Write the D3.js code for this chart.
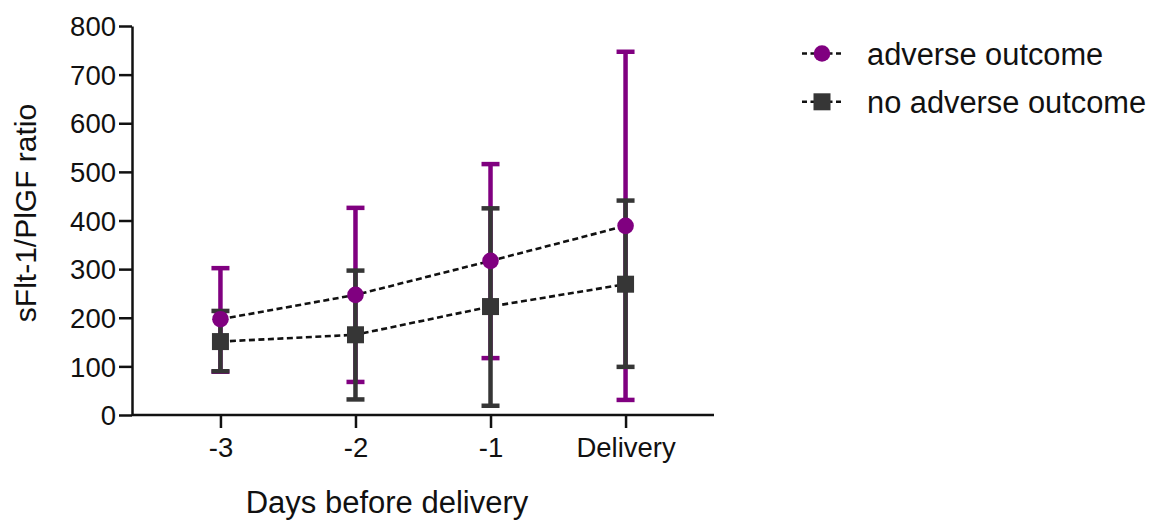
<!DOCTYPE html>
<html><head><meta charset="utf-8">
<script src="https://cdn.jsdelivr.net/npm/d3@7"></script>
<style>body{margin:0;background:#fff}svg{display:block}text{font-family:"Liberation Sans",Arial,sans-serif;fill:#111}</style>
</head><body>
<svg id="c" width="1154" height="520"></svg>
<script>
const categories = ["-3", "-2", "-1", "Delivery"];
const yTicks = [0, 100, 200, 300, 400, 500, 600, 700, 800];
const adverseMean = [197, 247, 317, 389];
const adverseLow  = [89, 68, 117, 31];
const adverseHigh = [302, 426, 516, 747];
const noAdverseMean = [151, 165, 223, 269];
const noAdverseLow  = [90, 32, 19, 99];
const noAdverseHigh = [214, 297, 425, 441];
const seriesNames = ["adverse outcome", "no adverse outcome"];

const purple = "#800080", gray = "#363636";
const svg = d3.select("#c");
const x = d3.scalePoint().domain(categories).range([132, 714]).padding(0.655);
const y = d3.scaleLinear().domain([0, 800]).range([415, 26]);

// axes
const yAxis = svg.append("g").attr("transform", "translate(132,0)")
  .call(d3.axisLeft(y).tickValues(yTicks).tickSize(13).tickPadding(3).tickSizeOuter(0));
const xAxis = svg.append("g").attr("transform", "translate(0,415)")
  .call(d3.axisBottom(x).tickSize(13).tickPadding(7).tickSizeOuter(0));
[yAxis, xAxis].forEach(a => {
  a.select(".domain").attr("stroke", "#111").attr("stroke-width", 2.5);
  a.selectAll(".tick line").attr("stroke", "#111").attr("stroke-width", 2.5);
  a.selectAll(".tick text").style("font-size", "27.5px").attr("fill", "#111");
});
yAxis.selectAll(".tick text").attr("dy", "0.35em");
xAxis.selectAll(".tick text").attr("dy", "0.8em");
xAxis.select(".domain").attr("d", "M132,0H714");

// axis titles
svg.append("text").attr("x", 387).attr("y", 513).attr("text-anchor", "middle")
  .style("font-size", "31px").text("Days before delivery");
svg.append("text").attr("transform", "translate(36,213) rotate(-90)").attr("text-anchor", "middle")
  .style("font-size", "30px").text("sFlt-1/PlGF ratio");

function errorBars(low, high, color) {
  const g = svg.append("g").attr("stroke", color).attr("stroke-width", 4.5);
  categories.forEach((c, i) => {
    const cx = x(c);
    g.append("line").attr("x1", cx).attr("x2", cx).attr("y1", y(low[i])).attr("y2", y(high[i]));
    g.append("line").attr("x1", cx - 9).attr("x2", cx + 9).attr("y1", y(low[i])).attr("y2", y(low[i]));
    g.append("line").attr("x1", cx - 9).attr("x2", cx + 9).attr("y1", y(high[i])).attr("y2", y(high[i]));
  });
}
errorBars(adverseLow, adverseHigh, purple);
errorBars(noAdverseLow, noAdverseHigh, gray);

const line = d3.line().x((d, i) => x(categories[i])).y(d => y(d));
[adverseMean, noAdverseMean].forEach(m => {
  svg.append("path").attr("d", line(m)).attr("fill", "none")
    .attr("stroke", "#111").attr("stroke-width", 2.6).attr("stroke-dasharray", "6,3.5");
});

svg.append("g").selectAll("circle").data(adverseMean).join("circle")
  .attr("cx", (d, i) => x(categories[i])).attr("cy", d => y(d)).attr("r", 8.3).attr("fill", purple);
svg.append("g").selectAll("rect").data(noAdverseMean).join("rect")
  .attr("x", (d, i) => x(categories[i]) - 8.5).attr("y", d => y(d) - 8.5)
  .attr("width", 17).attr("height", 17).attr("fill", gray);

// legend
const leg = svg.append("g");
seriesNames.forEach((name, i) => {
  const cy = 53.5 + i * 48.3;
  leg.append("line").attr("x1", 802).attr("x2", 843).attr("y1", cy).attr("y2", cy)
    .attr("stroke", "#111").attr("stroke-width", 2.6).attr("stroke-dasharray", "5,3.5");
  if (i === 0) leg.append("circle").attr("cx", 822).attr("cy", cy).attr("r", 8.3).attr("fill", purple);
  else leg.append("rect").attr("x", 813.5).attr("y", cy - 8.5).attr("width", 17).attr("height", 17).attr("fill", gray);
  leg.append("text").attr("x", 867).attr("y", cy + 11).style("font-size", "30.8px").text(name);
});
</script>
</body></html>
